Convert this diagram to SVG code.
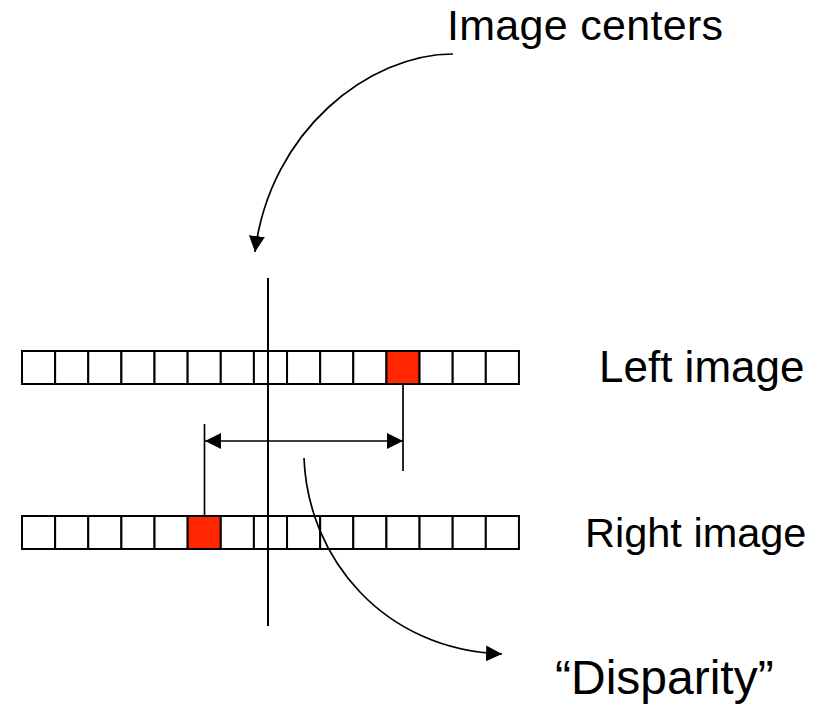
<svg xmlns="http://www.w3.org/2000/svg" width="834" height="705" viewBox="0 0 834 705">
<style>
.cell{fill:#fff;stroke:#000;stroke-width:2}
.hot{fill:#ff2600;stroke:#000;stroke-width:2}
.lbl{font-family:"Liberation Sans",Arial,sans-serif;fill:#000}
.ln{fill:none;stroke:#000;stroke-width:1.7}
</style>
<defs>
<marker id="ah" viewBox="0 0 16 16" refX="16" refY="8" markerWidth="16" markerHeight="16" markerUnits="userSpaceOnUse" orient="auto-start-reverse">
<path d="M0,0 L16,8 L0,16 Z" fill="#000"/>
</marker>
</defs>
<rect width="834" height="705" fill="#fff"/>
<g id="left-image-row">
<rect class="cell" x="22" y="351" width="33.13" height="33"/>
<rect class="cell" x="55.13" y="351" width="33.13" height="33"/>
<rect class="cell" x="88.26" y="351" width="33.13" height="33"/>
<rect class="cell" x="121.39" y="351" width="33.13" height="33"/>
<rect class="cell" x="154.52" y="351" width="33.13" height="33"/>
<rect class="cell" x="187.65" y="351" width="33.13" height="33"/>
<rect class="cell" x="220.78" y="351" width="33.13" height="33"/>
<rect class="cell" x="253.91" y="351" width="33.13" height="33"/>
<rect class="cell" x="287.04" y="351" width="33.13" height="33"/>
<rect class="cell" x="320.17" y="351" width="33.13" height="33"/>
<rect class="cell" x="353.3" y="351" width="33.13" height="33"/>
<rect class="hot" x="386.43" y="351" width="33.13" height="33"/>
<rect class="cell" x="419.56" y="351" width="33.13" height="33"/>
<rect class="cell" x="452.69" y="351" width="33.13" height="33"/>
<rect class="cell" x="485.82" y="351" width="33.13" height="33"/>
</g>
<g id="right-image-row">
<rect class="cell" x="22" y="516" width="33.13" height="33"/>
<rect class="cell" x="55.13" y="516" width="33.13" height="33"/>
<rect class="cell" x="88.26" y="516" width="33.13" height="33"/>
<rect class="cell" x="121.39" y="516" width="33.13" height="33"/>
<rect class="cell" x="154.52" y="516" width="33.13" height="33"/>
<rect class="hot" x="187.65" y="516" width="33.13" height="33"/>
<rect class="cell" x="220.78" y="516" width="33.13" height="33"/>
<rect class="cell" x="253.91" y="516" width="33.13" height="33"/>
<rect class="cell" x="287.04" y="516" width="33.13" height="33"/>
<rect class="cell" x="320.17" y="516" width="33.13" height="33"/>
<rect class="cell" x="353.3" y="516" width="33.13" height="33"/>
<rect class="cell" x="386.43" y="516" width="33.13" height="33"/>
<rect class="cell" x="419.56" y="516" width="33.13" height="33"/>
<rect class="cell" x="452.69" y="516" width="33.13" height="33"/>
<rect class="cell" x="485.82" y="516" width="33.13" height="33"/>
</g>
<g id="label-image-centers"><text class="lbl" x="447" y="40" font-size="43" textLength="276" lengthAdjust="spacing">Image centers</text></g>
<g id="label-left-image"><text class="lbl" x="599" y="382" font-size="44">Left image</text></g>
<g id="label-right-image"><text class="lbl" x="585" y="547" font-size="41.5">Right image</text></g>
<g id="label-disparity"><text class="lbl" x="555" y="694" font-size="48">“Disparity”</text></g>
<g id="connectors">
<line x1="268" y1="278" x2="268" y2="626" stroke="#000" stroke-width="2"/>
<line class="ln" x1="403" y1="384" x2="403" y2="471"/>
<line class="ln" x1="204.5" y1="424" x2="204.5" y2="516"/>
<line class="ln" x1="205" y1="441" x2="403" y2="441" stroke-width="2" marker-start="url(#ah)" marker-end="url(#ah)"/>
<path class="ln" d="M453,54 C370,54 270,130 255,252" marker-end="url(#ah)"/>
<path class="ln" d="M304,458 C308,560 385,650 502,654" marker-end="url(#ah)"/>
</g>
</svg>
